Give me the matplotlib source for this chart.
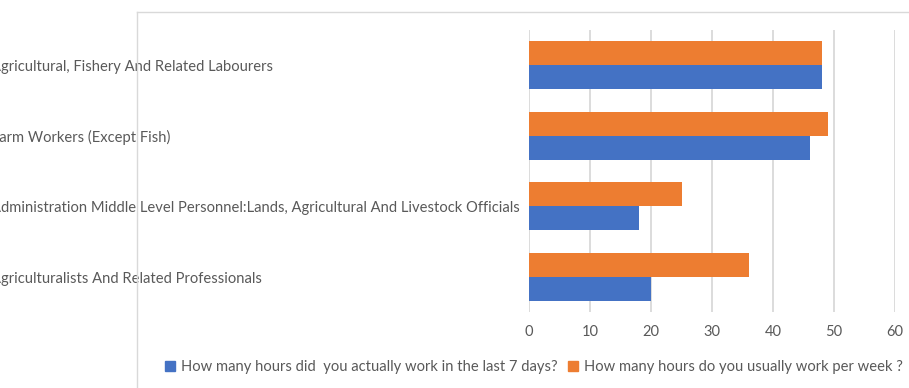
import matplotlib.pyplot as plt
import matplotlib.transforms as mtransforms
from matplotlib.lines import Line2D
from matplotlib.patches import Patch
import numpy as np

plt.rcParams['font.family'] = ['Lato', 'DejaVu Sans']

# bottom to top
categories = ['Agriculturalists And Related Professionals',
              'Administration Middle Level Personnel:Lands, Agricultural And Livestock Officials',
              'Farm Workers (Except Fish)',
              'Agricultural, Fishery And Related Labourers']
actual_hours = [20, 18, 46, 48]
usual_hours = [36, 25, 49, 48]
series_names = ['How many hours did  you actually work in the last 7 days?',
                'How many hours do you usually work per week ?']

blue = '#4472c4'
orange = '#ed7d31'
grey_text = '#595959'
grid_col = '#d9d9d9'

W, H = 909, 388
fig = plt.figure(figsize=(W / 100, H / 100), dpi=100)
ax = fig.add_axes([529 / W, 1 - 312 / H, (895 - 529) / W, (312 - 30) / H])

y = np.arange(len(categories))
h = 0.34
ax.barh(y - h / 2, actual_hours, height=h, color=blue, zorder=3)
ax.barh(y + h / 2, usual_hours, height=h, color=orange, zorder=3)

ax.set_xlim(0, 60)
ax.set_ylim(-0.5, len(categories) - 0.5)
ax.set_xticks(range(0, 61, 10))
ax.xaxis.grid(True, color=grid_col, linewidth=1.3, zorder=0)
ax.tick_params(axis='x', length=0, pad=9, labelsize=10.5, labelcolor=grey_text)
ax.set_yticks([])
for s in ax.spines.values():
    s.set_visible(False)

# category labels start at the left edge of the figure
trans = mtransforms.blended_transform_factory(fig.transFigure, ax.transData)
for yi, name in zip(y, categories):
    ax.text(-9 / W, yi - 0.03, name, transform=trans, ha='left', va='center',
            fontsize=10.6, color=grey_text, clip_on=False)

# chart area border (left and top)
fig.add_artist(Line2D([137 / W, 137 / W], [0, 1 - 12 / H], color=grid_col, linewidth=1))
fig.add_artist(Line2D([137 / W, 1], [1 - 12 / H, 1 - 12 / H], color=grid_col, linewidth=1))

handles = [Patch(color=blue), Patch(color=orange)]
fig.legend(handles, series_names, loc='center', bbox_to_anchor=(534 / W, 1 - 367 / H),
           ncol=2, frameon=False, fontsize=10.6, labelcolor=grey_text,
           handlelength=0.7, handleheight=0.7, handletextpad=0.4, columnspacing=0.7)

fig.savefig('out.png', dpi=100)
